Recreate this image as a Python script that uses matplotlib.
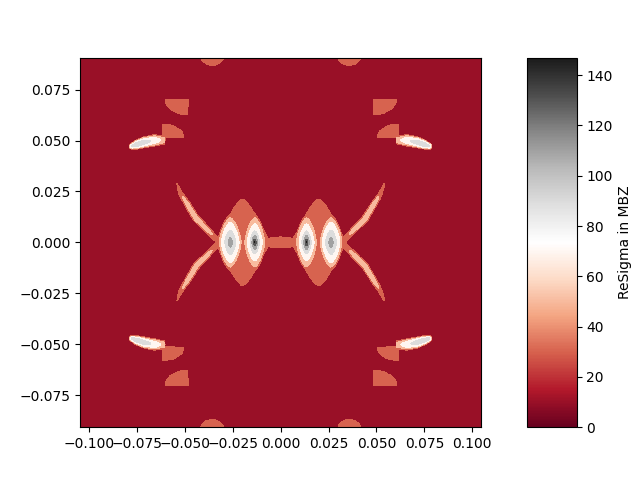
import numpy as np
import matplotlib
matplotlib.use("Agg")
import matplotlib.pyplot as plt
from matplotlib.colors import Normalize
from matplotlib.cm import ScalarMappable

# plot window (mini Brillouin zone) and colour scale
kx_max = 0.1047
ky_max = 0.0907
levels = [0, 20, 40, 60, 80, 100, 120, 140, 160]
vmin, vmax = 0, 147
background = 8.0

# elliptical features in the kx>0, ky>0 quadrant (mirrored to the others)
ell_x0 = [0.0135, 0.0263, 0.0198, 0.0, 0.0358, 0.0484, 0.0615]
ell_y0 = [0.0, 0.0, 0.0, 0.0, 0.0915, 0.0702, 0.0512]
ell_a = [0.0058, 0.0063, 0.0150, 0.0100, 0.0062, 0.0122, 0.0113]
ell_b = [0.0135, 0.0135, 0.0215, 0.0027, 0.0047, 0.0076, 0.0070]
ell_px = [1.5, 1.5, 1.5, 2.0, 2.0, 2.0, 2.0]
ell_py = [1.5, 1.5, 0.8, 2.0, 2.0, 2.0, 2.0]
ell_r = [[0, 0.13, 0.26, 0.42, 0.68, 0.90, 1.0],
         [0, 0.18, 0.45, 0.74, 0.90, 1.0],
         [0, 1.0], [0, 1.0], [0, 1.0], [0, 1.0], [0, 1.0]]
ell_v = [[147, 120, 100, 80, 60, 40, 20],
         [112, 100, 80, 60, 40, 20],
         [38, 20], [36, 20], [32, 20], [30, 20], [30, 20]]
ell_mask = [(0, 0), (0, 0), (0, 0), (0, 0), (0, 0), (1, -1), (-1, 1)]

# tube-like features: centre line, half width, peak value along it
arc_x = [0.0325, 0.0340, 0.0389, 0.0441, 0.0484, 0.0521, 0.0542]
arc_y = [0.0005, 0.0021, 0.0068, 0.0117, 0.0183, 0.0239, 0.0289]
arc_w = [0.0010, 0.0013, 0.0016, 0.0017, 0.0016, 0.0011, 0.0002]
arc_v = [30, 36, 48, 50, 48, 38, 22]

ban_x = [0.0606, 0.0658, 0.0710, 0.0750, 0.0775, 0.0789]
ban_y = [0.0502, 0.0501, 0.0492, 0.0480, 0.0472, 0.0465]
ban_w = [0.0020, 0.0028, 0.0027, 0.0022, 0.0015, 0.0004]
ban_v = [50, 75, 88, 95, 85, 30]


def ellipse(X, Y, x0, y0, a, b, px, py, rr, vv, mask):
    u = X - x0
    v = Y - y0
    d = ((np.abs(u) / a) ** px + (np.abs(v) / b) ** py) ** (1.0 / max(px, py))
    ok = d <= 1.0
    if mask[0]:
        ok &= (u * mask[0]) >= 0
    if mask[1]:
        ok &= (v * mask[1]) >= 0
    return np.where(ok, np.interp(d, rr, vv), -np.inf)


def tube(X, Y, px, py, pw, pv):
    out = np.full(X.shape, -np.inf)
    for i in range(len(px) - 1):
        dx, dy = px[i + 1] - px[i], py[i + 1] - py[i]
        t = ((X - px[i]) * dx + (Y - py[i]) * dy) / (dx * dx + dy * dy)
        dist = np.hypot(X - (px[i] + t * dx), Y - (py[i] + t * dy))
        w = pw[i] + t * (pw[i + 1] - pw[i])
        v = pv[i] + t * (pv[i + 1] - pv[i])
        r = dist / w
        ok = (t >= 0) & (t <= 1) & (r < 1)
        out = np.maximum(out, np.where(ok, 20 + (v - 20) * (1 - r ** 2), -np.inf))
    for i in range(1, len(px) - 1):
        r = np.hypot(X - px[i], Y - py[i]) / pw[i]
        out = np.maximum(out, np.where(r < 1, 20 + (pv[i] - 20) * (1 - r ** 2), -np.inf))
    return out


kx = np.linspace(-kx_max, kx_max, 500)
ky = np.linspace(-ky_max, ky_max, 440)
KX, KY = np.meshgrid(kx, ky)
AX, AY = np.abs(KX), np.abs(KY)

Z = np.full(KX.shape, background)
for i in range(len(ell_x0)):
    Z = np.maximum(Z, ellipse(AX, AY, ell_x0[i], ell_y0[i], ell_a[i], ell_b[i],
                              ell_px[i], ell_py[i], ell_r[i], ell_v[i], ell_mask[i]))
Z = np.maximum(Z, tube(AX, AY, arc_x, arc_y, arc_w, arc_v))
Z = np.maximum(Z, tube(AX, AY, ban_x, ban_y, ban_w, ban_v))

fig = plt.figure(figsize=(6.4, 4.8))
ax = fig.add_axes([0.125, 0.11, 0.627, 0.77])
cax = fig.add_axes([0.823, 0.11, 0.078, 0.77])
norm = Normalize(vmin=vmin, vmax=vmax)
ax.contourf(KX, KY, Z, levels=levels, cmap="RdGy", norm=norm)
sm = ScalarMappable(norm=norm, cmap="RdGy")
sm.set_array([])
fig.colorbar(sm, cax=cax, label="ReSigma in MBZ")
fig.savefig("out.png", dpi=100)
